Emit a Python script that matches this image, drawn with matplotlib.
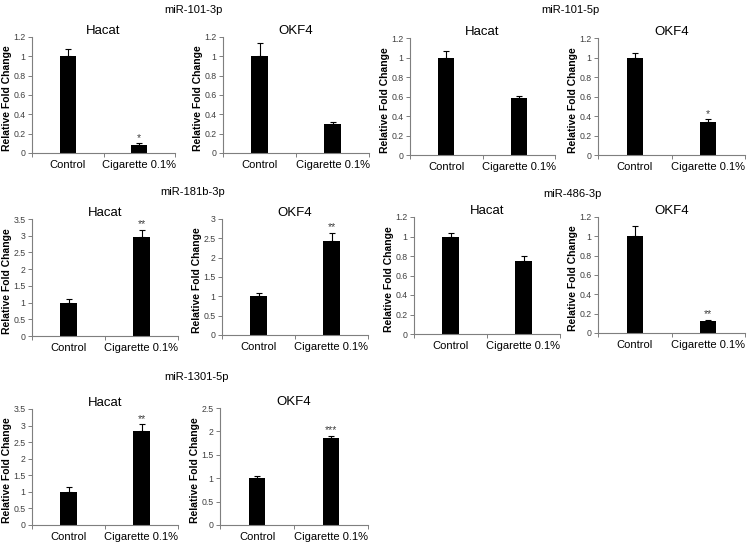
import numpy as np
import matplotlib
matplotlib.use('Agg')
import matplotlib.pyplot as plt

plt.rcParams['font.family'] = ['Liberation Sans', 'DejaVu Sans']

# data
groups = ['miR-101-3p', 'miR-101-5p', 'miR-181b-3p', 'miR-486-3p', 'miR-1301-5p']
categories = ['Control', 'Cigarette 0.1%']

hacat_means = [[1.0, 0.08], [1.0, 0.58], [1.0, 2.95], [1.0, 0.75], [1.0, 2.84]]
hacat_errs = [[0.08, 0.02], [0.07, 0.03], [0.10, 0.23], [0.04, 0.05], [0.15, 0.20]]
hacat_stars = ['*', '', '**', '', '**']
hacat_ymax = [1.2, 1.2, 3.5, 1.2, 3.5]
hacat_step = [0.2, 0.2, 0.5, 0.2, 0.5]

okf4_means = [[1.0, 0.30], [1.0, 0.34], [1.0, 2.44], [1.0, 0.12], [1.0, 1.85]]
okf4_errs = [[0.14, 0.02], [0.05, 0.025], [0.09, 0.20], [0.11, 0.015], [0.05, 0.06]]
okf4_stars = ['', '*', '**', '**', '***']
okf4_ymax = [1.2, 1.2, 3.0, 1.2, 2.5]
okf4_step = [0.2, 0.2, 0.5, 0.2, 0.5]

W, H = 750, 545
fig = plt.figure(figsize=(W/100, H/100), dpi=100)

# axes boxes in pixels: (left, right, top, bottom)
boxes = [
    [(32, 175, 37, 153), (223, 369, 37, 153)],
    [(410, 555, 38, 155), (598, 745, 38, 155)],
    [(32, 178, 219, 336), (222, 368, 219, 335)],
    [(414, 560, 217, 334), (598, 745, 217, 333)],
    [(32, 178, 409, 525), (220, 368, 408, 525)],
]
group_pos = [(193, 10), (570, 10), (193, 192), (572, 194), (197, 377)]

grey = '#7f7f7f'

def panel(box, title, means, errs, star, ymax, step):
    l, r, t, b = box
    ax = fig.add_axes([l/W, 1-b/H, (r-l)/W, (b-t)/H])
    x = np.arange(len(categories))
    ax.bar(x, means, width=0.22, color='black')
    ax.errorbar(x, means, yerr=[np.zeros(len(errs)), errs], fmt='none',
                ecolor='black', elinewidth=0.8, capsize=2.5, capthick=0.8)
    if star:
        ax.text(1, means[1] + errs[1] + ymax*0.005, star, ha='center', va='bottom',
                fontsize=7.5, color='#404040')
    ax.set_xlim(-0.5, 1.5)
    ax.set_ylim(0, ymax)
    yt = np.arange(0, ymax + step/2, step)
    ax.set_yticks(yt)
    ax.set_yticklabels(['%g' % round(v, 2) for v in yt])
    ax.set_xticks(x)
    ax.set_xticklabels(categories)
    ax.set_xticks([-0.5, 0.5, 1.5], minor=True)
    ax.tick_params(axis='x', which='major', length=0, labelsize=8, pad=5)
    ax.tick_params(axis='x', which='minor', length=3, color=grey, width=0.7)
    ax.tick_params(axis='y', length=3, color=grey, width=0.7, labelsize=6.3,
                   labelcolor='#404040', pad=1.5)
    for s in ['top', 'right']:
        ax.spines[s].set_visible(False)
    for s in ['left', 'bottom']:
        ax.spines[s].set_color(grey)
        ax.spines[s].set_linewidth(0.8)
    ax.set_ylabel('Relative Fold Change', fontsize=7.5, fontweight='bold')
    ax.yaxis.set_label_coords(-20/(r-l), 0.47)
    ax.set_title(title, fontsize=9.5, pad=2)
    return ax

for i, g in enumerate(groups):
    panel(boxes[i][0], 'Hacat', hacat_means[i], hacat_errs[i], hacat_stars[i],
          hacat_ymax[i], hacat_step[i])
    panel(boxes[i][1], 'OKF4', okf4_means[i], okf4_errs[i], okf4_stars[i],
          okf4_ymax[i], okf4_step[i])
    gx, gy = group_pos[i]
    fig.text(gx/W, 1-gy/H, g, ha='center', va='center', fontsize=8)

fig.savefig('out.png', dpi=100)
